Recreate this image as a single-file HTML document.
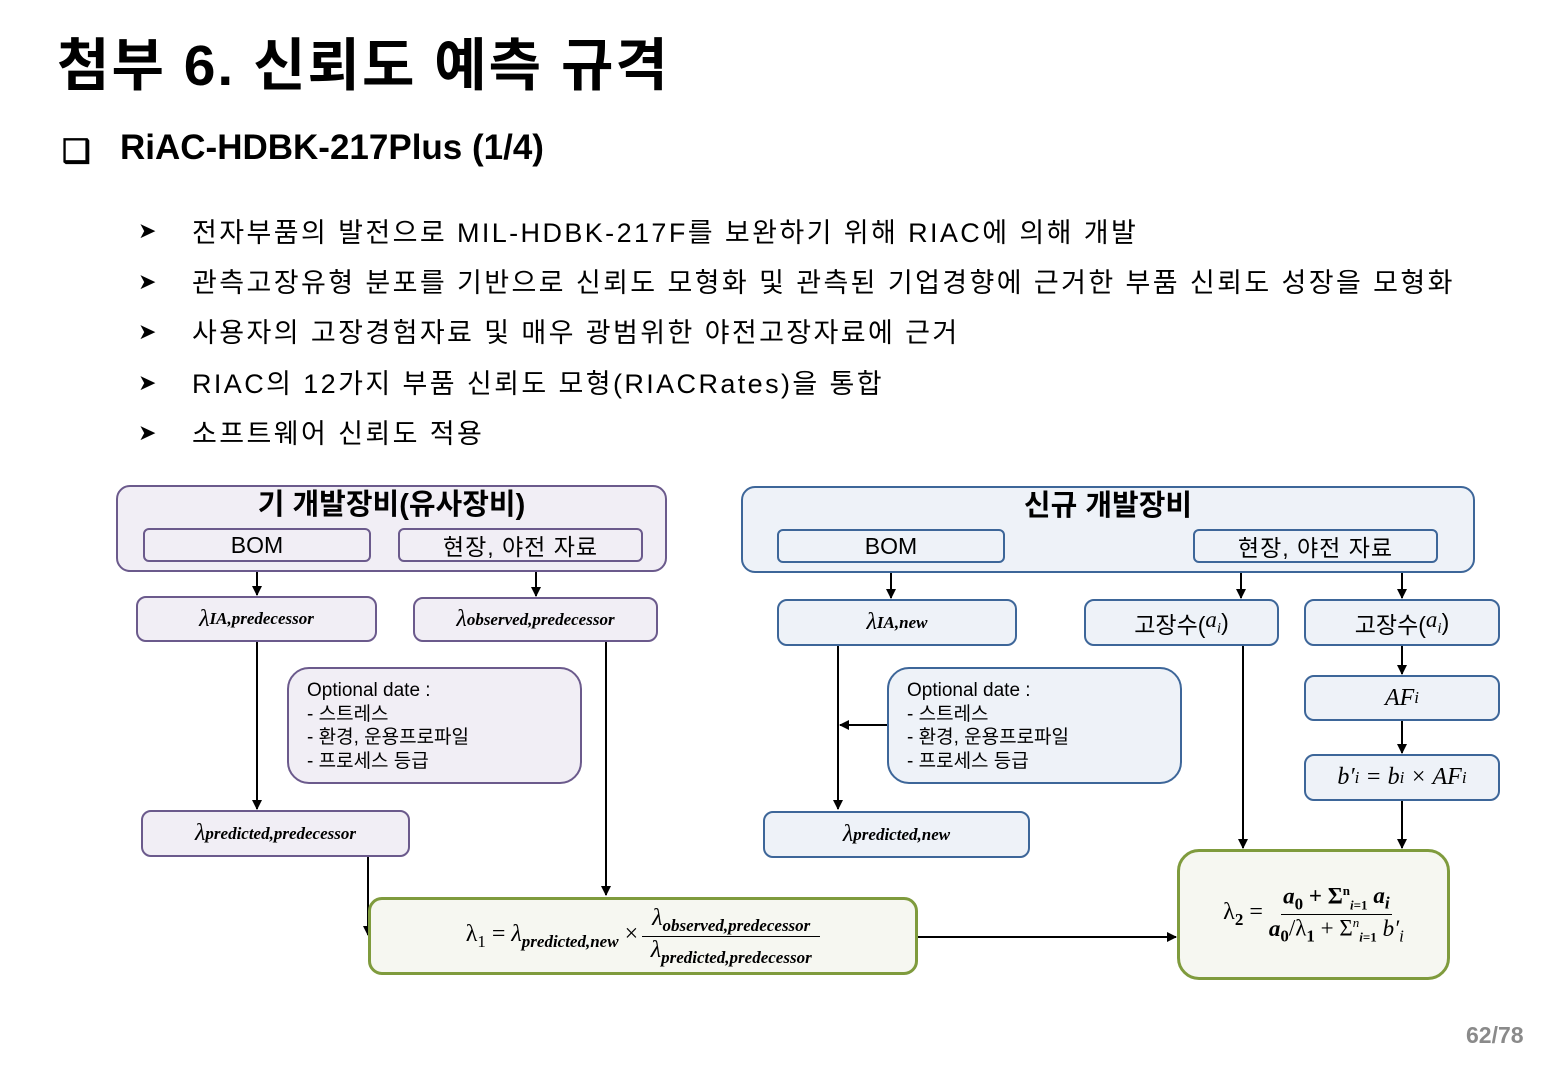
<!DOCTYPE html>
<html><head><meta charset="utf-8"><style>
body{margin:0;width:1547px;height:1068px;background:#fff;position:relative;overflow:hidden;font-family:"Liberation Sans","Noto Sans CJK KR",sans-serif;color:#000}
.a{position:absolute}
.b{position:absolute;box-sizing:border-box;border-radius:10px;display:flex;align-items:center;justify-content:center}
.p{border:2.5px solid #6b5a8c;background:#f1eef5}
.q{border:2.5px solid #3d6699;background:#eef2f8}
.g{border:3px solid #7f9b3d;background:#f6f7f1;border-radius:22px}
.m{font-family:"Liberation Serif","DejaVu Serif",serif;font-style:italic;font-size:24px}
.m sub{font-size:17px;font-weight:bold}
.bl{font-size:27px;letter-spacing:2.4px}
.ar{font-size:22px}
.o{align-items:flex-start;justify-content:flex-start;padding:10px 18px;font-size:19px;line-height:23.5px;border-radius:22px}
</style></head><body>
<div class="a" style="left:57px;top:20px;font-size:57px;font-weight:bold;letter-spacing:2px">첨부 6. 신뢰도 예측 규격</div>
<div class="a" style="left:62px;top:132px;font-size:32px;font-weight:bold">❑</div>
<div class="a" style="left:120px;top:128px;font-size:35px;font-weight:bold">RiAC-HDBK-217Plus (1/4)</div>
<div class="a ar" style="left:138px;top:218px">➤</div><div class="a bl" style="left:192px;top:211px">전자부품의 발전으로 MIL-HDBK-217F를 보완하기 위해 RIAC에 의해 개발</div>
<div class="a ar" style="left:138px;top:269px">➤</div><div class="a bl" style="left:192px;top:261px">관측고장유형 분포를 기반으로 신뢰도 모형화 및 관측된 기업경향에 근거한 부품 신뢰도 성장을 모형화</div>
<div class="a ar" style="left:138px;top:319px">➤</div><div class="a bl" style="left:192px;top:311px">사용자의 고장경험자료 및 매우 광범위한 야전고장자료에 근거</div>
<div class="a ar" style="left:138px;top:370px">➤</div><div class="a bl" style="left:192px;top:362px">RIAC의 12가지 부품 신뢰도 모형(RIACRates)을 통합</div>
<div class="a ar" style="left:138px;top:420px">➤</div><div class="a bl" style="left:192px;top:412px">소프트웨어 신뢰도 적용</div>

<svg class="a" style="left:0;top:0" width="1547" height="1068">
<defs><marker id="ar" markerWidth="10" markerHeight="10" refX="9" refY="5" orient="auto" markerUnits="userSpaceOnUse"><path d="M0,0L10,5L0,10z" fill="#000"/></marker></defs>
<g stroke="#000" stroke-width="2" fill="none" marker-end="url(#ar)">
<line x1="257" y1="562" x2="257" y2="595"/>
<line x1="536" y1="562" x2="536" y2="596"/>
<line x1="257" y1="642" x2="257" y2="809"/>
<line x1="606" y1="642" x2="606" y2="895"/>
<line x1="368" y1="857" x2="368" y2="935"/>
<line x1="891" y1="563" x2="891" y2="598"/>
<line x1="1241" y1="563" x2="1241" y2="598"/>
<line x1="1402" y1="563" x2="1402" y2="598"/>
<line x1="838" y1="646" x2="838" y2="809"/>
<line x1="887" y1="725" x2="840" y2="725"/>
<line x1="1243" y1="646" x2="1243" y2="848"/>
<line x1="1402" y1="646" x2="1402" y2="674"/>
<line x1="1402" y1="721" x2="1402" y2="753"/>
<line x1="1402" y1="801" x2="1402" y2="848"/>
<line x1="918" y1="937" x2="1176" y2="937"/>
</g></svg>

<div class="b p" style="left:116px;top:485px;width:551px;height:87px;border-radius:14px;align-items:flex-start;padding-top:0;font-size:29px;font-weight:bold;line-height:36px">기 개발장비(유사장비)</div>
<div class="b p" style="left:143px;top:528px;width:228px;height:34px;border-radius:6px;font-size:23px">BOM</div>
<div class="b p" style="left:398px;top:528px;width:245px;height:34px;border-radius:6px;font-size:23px;letter-spacing:1px">현장, 야전 자료</div>
<div class="b q" style="left:741px;top:486px;width:734px;height:87px;border-radius:14px;align-items:flex-start;padding-top:0;font-size:29px;font-weight:bold;line-height:36px">신규 개발장비</div>
<div class="b q" style="left:777px;top:529px;width:228px;height:34px;border-radius:6px;font-size:23px">BOM</div>
<div class="b q" style="left:1193px;top:529px;width:245px;height:34px;border-radius:6px;font-size:23px;letter-spacing:1px">현장, 야전 자료</div>

<div class="b p m" style="left:136px;top:596px;width:241px;height:46px">λ<sub>IA,predecessor</sub></div>
<div class="b p m" style="left:413px;top:597px;width:245px;height:45px">λ<sub>observed,predecessor</sub></div>
<div class="b p o" style="left:287px;top:667px;width:295px;height:117px">Optional date :<br>- 스트레스<br>- 환경, 운용프로파일<br>- 프로세스 등급</div>
<div class="b p m" style="left:141px;top:810px;width:269px;height:47px">λ<sub>predicted,predecessor</sub></div>

<div class="b q m" style="left:777px;top:599px;width:240px;height:47px">λ<sub>IA,new</sub></div>
<div class="b q" style="left:1084px;top:599px;width:195px;height:47px;font-size:23px">고장수(<i style="font-family:'Liberation Serif',serif">a<sub style="font-size:15px">i</sub></i>)</div>
<div class="b q" style="left:1304px;top:599px;width:196px;height:47px;font-size:23px">고장수(<i style="font-family:'Liberation Serif',serif">a<sub style="font-size:15px">i</sub></i>)</div>
<div class="b q m" style="left:1304px;top:675px;width:196px;height:46px">AF<sub style="font-weight:normal">i</sub></div>
<div class="b q m" style="left:1304px;top:754px;width:196px;height:47px">b′<sub style="font-weight:normal">i</sub>&nbsp;=&nbsp;b<sub style="font-weight:normal">i</sub>&nbsp;×&nbsp;AF<sub style="font-weight:normal">i</sub></div>
<div class="b q o" style="left:887px;top:667px;width:295px;height:117px">Optional date :<br>- 스트레스<br>- 환경, 운용프로파일<br>- 프로세스 등급</div>
<div class="b q m" style="left:763px;top:811px;width:267px;height:47px">λ<sub>predicted,new</sub></div>

<div class="b g m" style="left:368px;top:897px;width:550px;height:78px;border-radius:14px;font-style:normal">
<span>λ<sub style="font-weight:normal">1</sub> = <i>λ<sub>predicted,new</sub></i> × </span>
<span style="display:inline-flex;flex-direction:column;align-items:center;margin-left:4px"><i style="border-bottom:1.5px solid #000;padding:0 10px">λ<sub>observed,predecessor</sub></i><i>λ<sub>predicted,predecessor</sub></i></span></div>
<div class="b g m" style="left:1177px;top:849px;width:273px;height:131px;font-style:normal">
<span>λ<sub>2</sub> = </span>
<span style="display:inline-flex;flex-direction:column;align-items:center;margin-left:6px;font-size:23px"><b style="border-bottom:1.5px solid #000;padding:0 2px"><i>a</i><sub>0</sub> + Σ<sup style="font-size:13px">n</sup><sub style="font-size:13px"><i>i</i>=1</sub> <i>a<sub>i</sub></i></b><span><b><i>a</i><sub>0</sub></b>/λ<sub>1</sub> + Σ<sup style="font-size:13px"><i>n</i></sup><sub style="font-size:13px"><i>i</i>=1</sub> <i>b′<sub style="font-weight:normal">i</sub></i></span></span></div>

<div class="a" style="left:1466px;top:1022px;font-size:23px;font-weight:bold;color:#8a8a8a">62/78</div>
</body></html>
